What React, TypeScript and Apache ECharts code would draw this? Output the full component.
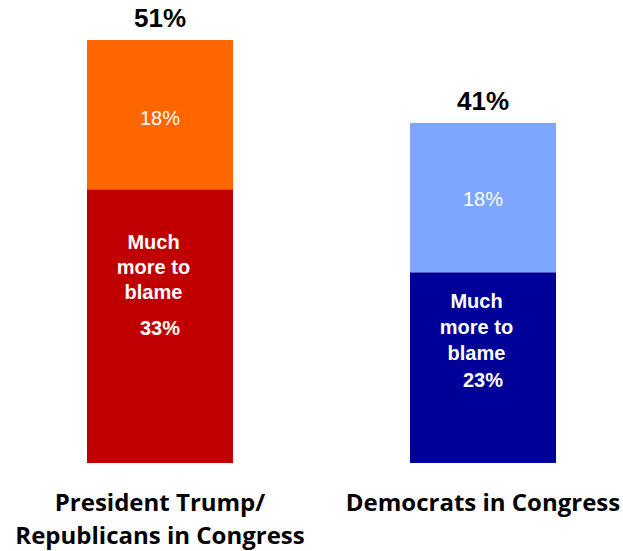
import React, { useEffect, useRef } from "react";
import * as echarts from "echarts";

const categories = ["President Trump/\nRepublicans in Congress", "Democrats in Congress"];
const muchMore = [33, 23];
const somewhatMore = [18, 18];
const totals = [51, 41];

const darkColors = ["#C00000", "#000099"];
const lightColors = ["#FF6600", "#7DA6FF"];
// per-bar layout of the inside "Much more to blame" label
const muchLayouts = [
  { distance: 40, lineT: 25, lineV: 47 },
  { distance: 16, lineT: 26, lineV: 28 },
];
const lightLabelOffsets = [3, 1];

export default function App() {
  const ref = useRef<HTMLDivElement>(null);
  useEffect(() => {
    if (!ref.current) return;
    const chart = echarts.init(ref.current, null, { renderer: "svg" });
    const bold = "Arial, 'Liberation Sans', sans-serif";
    chart.setOption({
      animation: false,
      grid: { left: -1.5, width: 646, top: 40, bottom: 88, outerBoundsMode: "none", containLabel: false },
      xAxis: {
        type: "category",
        data: categories,
        axisLine: { show: false },
        axisTick: { show: false },
        axisLabel: {
          interval: 0,
          margin: 22,
          fontFamily: "'Open Sans', Lato, sans-serif",
          fontWeight: "bold",
          fontSize: 24,
          lineHeight: 33,
          color: "#000",
        },
      },
      yAxis: { type: "value", min: 0, max: 51, show: false, splitLine: { show: false } },
      series: [
        {
          type: "bar",
          stack: "s",
          barWidth: 146,
          data: muchMore.map((v, i) => ({
            value: v,
            itemStyle: { color: darkColors[i] },
            label: {
              show: true,
              position: "insideTop",
              distance: muchLayouts[i].distance,
              formatter: () => `{t|Much}\n{t|more to}\n{t|blame}\n{v|${v}%}`,
              rich: {
                t: {
                  fontFamily: bold,
                  fontWeight: "bold",
                  fontSize: 20,
                  color: "#fff",
                  lineHeight: muchLayouts[i].lineT,
                  padding: [0, 13, 0, 0],
                  align: "center",
                },
                v: {
                  fontFamily: bold,
                  fontWeight: "bold",
                  fontSize: 20,
                  color: "#fff",
                  lineHeight: muchLayouts[i].lineV,
                  align: "center",
                },
              },
            },
          })),
        },
        {
          type: "bar",
          stack: "s",
          barWidth: 146,
          data: somewhatMore.map((v, i) => ({
            value: v,
            itemStyle: { color: lightColors[i] },
            label: { offset: [0, lightLabelOffsets[i]] },
          })),
          label: {
            show: true,
            position: "inside",
            formatter: (p: any) => `${p.value}%`,
            fontFamily: bold,
            fontSize: 20,
            color: "#fff",
          },
        },
        {
          type: "bar",
          stack: "s",
          barWidth: 146,
          data: totals.map(() => 0),
          itemStyle: { color: "transparent" },
          label: {
            show: true,
            position: "top",
            distance: 9,
            formatter: (p: any) => `${totals[p.dataIndex]}%`,
            fontFamily: bold,
            fontWeight: "bold",
            fontSize: 26,
            color: "#000",
          },
        },
      ],
    });
    return () => chart.dispose();
  }, []);
  return (
    <div
      ref={ref}
      style={{ position: "fixed", left: 0, top: 0, width: 623, height: 551, background: "#fff" }}
    />
  );
}
